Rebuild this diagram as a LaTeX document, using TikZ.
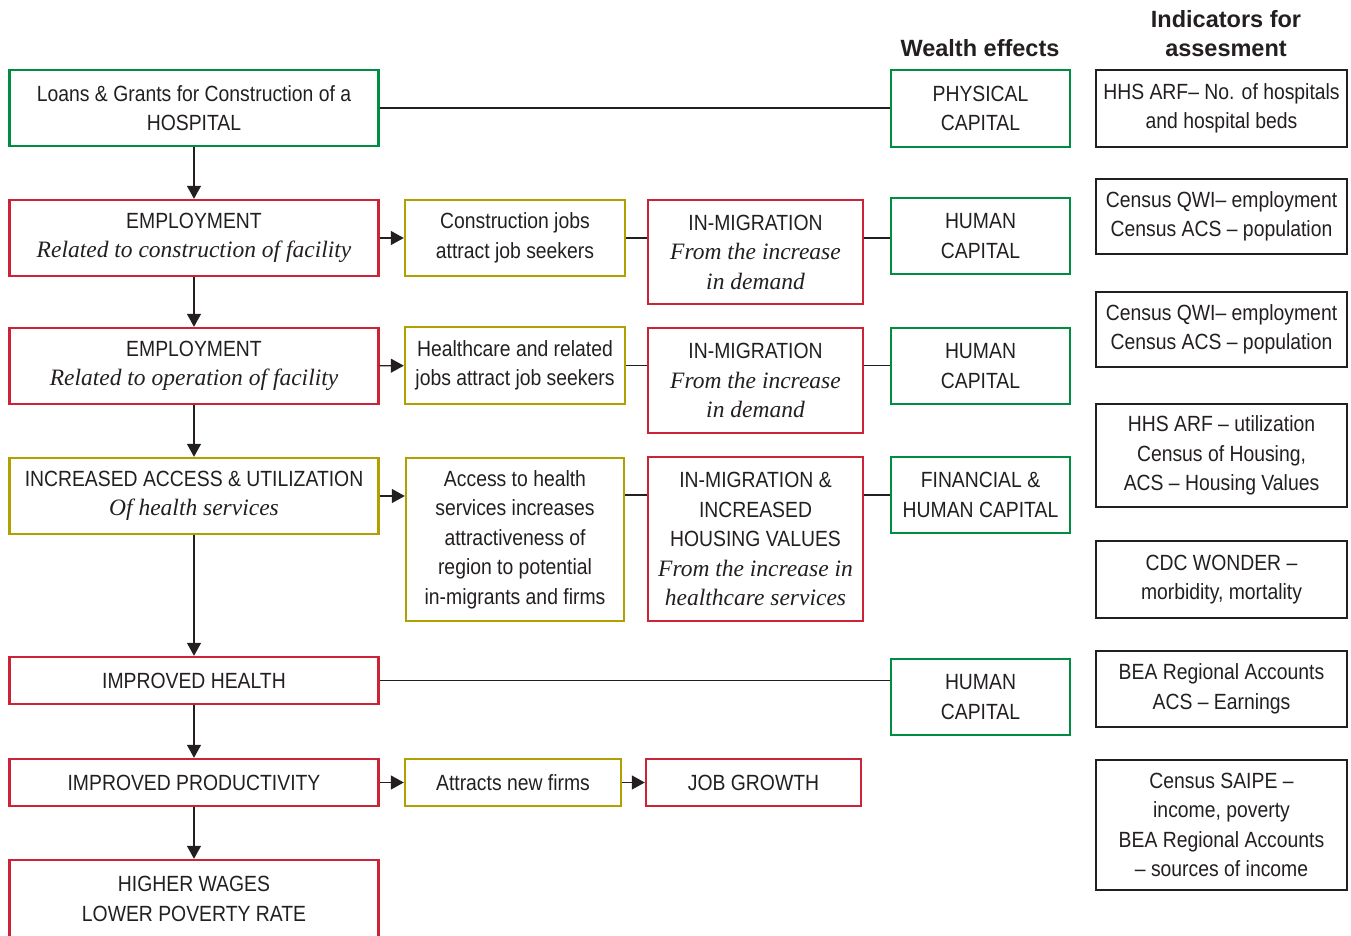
\documentclass[tikz,border=0pt]{standalone}
\usepackage{fontspec}
\setmainfont{Liberation Sans}[FakeStretch=0.88]
\newfontfamily\itfont{Liberation Serif}
\newfontfamily\headfont{Liberation Sans}
\usetikzlibrary{arrows.meta}

\definecolor{boxgreen}{RGB}{0,140,65}
\definecolor{boxred}{RGB}{205,35,55}
\definecolor{boxolive}{RGB}{176,160,0}
\definecolor{boxblack}{RGB}{35,31,32}

\newcommand{\subtxt}[1]{{\itfont\itshape\fontsize{23.5}{29.5}\selectfont #1}}

\tikzset{
  box/.style={draw, line width=2.4pt, align=center, inner sep=0pt,
    font=\fontsize{22}{29.5}\selectfont, text=boxblack},
  greenbox/.style={box, draw=boxgreen},
  redbox/.style={box, draw=boxred},
  olivebox/.style={box, draw=boxolive},
  indbox/.style={box, draw=boxblack, line width=2pt},
  head/.style={font=\headfont\bfseries\fontsize{23.5}{29}\selectfont, align=center, text=boxblack},
  arr/.style={-{Triangle[width=14pt,length=13pt]}, line width=1.3pt, draw=boxblack},
  lnk/.style={line width=1.3pt, draw=boxblack}
}

\begin{document}
\begin{tikzpicture}[x=1pt,y=-1pt]
\clip (0,0) rectangle (1351,935);

% headings
\node[head] (wealthhead) at (980,48) {Wealth effects};
\node[head] (indhead) at (1226,34) {Indicators for\\assesment};

% left column
\node[greenbox, minimum width=369, minimum height=76] (loans) at (194,108)
  {Loans \& Grants for Construction of a\\HOSPITAL};
\node[redbox, minimum width=369, minimum height=76] (emp1) at (194,238)
  {EMPLOYMENT\\\subtxt{Related to construction of facility}};
\node[redbox, minimum width=369, minimum height=76] (emp2) at (194,366)
  {EMPLOYMENT\\\subtxt{Related to operation of facility}};
\node[olivebox, minimum width=369, minimum height=76] (access) at (194,496)
  {INCREASED ACCESS \& UTILIZATION\\\subtxt{Of health services}};
\node[redbox, minimum width=369, minimum height=47] (health) at (194,680.5)
  {IMPROVED HEALTH};
\node[redbox, minimum width=369, minimum height=47] (prod) at (194,782.5)
  {IMPROVED PRODUCTIVITY};
\node[redbox, minimum width=369, minimum height=78] (wages) at (194,899)
  {HIGHER WAGES\\LOWER POVERTY RATE};

% second column
\node[olivebox, minimum width=220, minimum height=76] (cjobs) at (515,238)
  {Construction jobs\\attract job seekers};
\node[olivebox, minimum width=220, minimum height=77] (hcjobs) at (515,365.5)
  {Healthcare and related\\jobs attract job seekers};
\node[olivebox, minimum width=218, minimum height=163] (attract) at (515,539.5)
  {Access to health\\services increases\\attractiveness of\\region to potential\\in-migrants and firms};
\node[olivebox, minimum width=216, minimum height=47] (firms) at (513,782.5)
  {Attracts new firms};

% third column
\node[redbox, minimum width=215, minimum height=104] (mig1) at (755.5,252)
  {IN-MIGRATION\\\subtxt{From the increase}\\\subtxt{in demand}};
\node[redbox, minimum width=215, minimum height=105] (mig2) at (755.5,380.5)
  {IN-MIGRATION\\\subtxt{From the increase}\\\subtxt{in demand}};
\node[redbox, minimum width=215, minimum height=164] (mig3) at (755.5,539)
  {IN-MIGRATION \&\\INCREASED\\HOUSING VALUES\\\subtxt{From the increase in}\\\subtxt{healthcare services}};
\node[redbox, minimum width=215, minimum height=47] (jobs) at (753.5,782.5)
  {JOB GROWTH};

% wealth effects
\node[greenbox, minimum width=179, minimum height=77] (physcap) at (980.5,108.5)
  {PHYSICAL\\CAPITAL};
\node[greenbox, minimum width=179, minimum height=76] (hum1) at (980.5,236)
  {HUMAN\\CAPITAL};
\node[greenbox, minimum width=179, minimum height=76] (hum2) at (980.5,366)
  {HUMAN\\CAPITAL};
\node[greenbox, minimum width=179, minimum height=76] (fincap) at (980.5,495)
  {FINANCIAL \&\\HUMAN CAPITAL};
\node[greenbox, minimum width=179, minimum height=76] (hum3) at (980.5,697)
  {HUMAN\\CAPITAL};

% indicators
\node[indbox, minimum width=251, minimum height=77] (ind1) at (1221.5,108.5)
  {HHS ARF-- No. of hospitals\\and hospital beds};
\node[indbox, minimum width=251, minimum height=75] (ind2) at (1221.5,216.5)
  {Census QWI-- employment\\Census ACS -- population};
\node[indbox, minimum width=251, minimum height=75] (ind3) at (1221.5,329.5)
  {Census QWI-- employment\\Census ACS -- population};
\node[indbox, minimum width=251, minimum height=103] (ind4) at (1221.5,455.5)
  {HHS ARF -- utilization\\Census of Housing,\\ACS -- Housing Values};
\node[indbox, minimum width=251, minimum height=77] (ind5) at (1221.5,579.5)
  {CDC WONDER --\\morbidity, mortality};
\node[indbox, minimum width=251, minimum height=76] (ind6) at (1221.5,689)
  {BEA Regional Accounts\\ACS -- Earnings};
\node[indbox, minimum width=251, minimum height=130] (ind7) at (1221.5,825)
  {Census SAIPE --\\income, poverty\\BEA Regional Accounts\\-- sources of income};

% main chain
\draw[arr] (loans) -- (emp1);
\draw[arr] (emp1) -- (emp2);
\draw[arr] (emp2) -- (access);
\draw[arr] (access) -- (health);
\draw[arr] (health) -- (prod);
\draw[arr] (prod) -- (wages);

% side links
\draw[lnk] (loans.east) -- (loans.east -| physcap.west);
\draw[arr] (emp1) -- (cjobs);
\draw[lnk] (cjobs.east) -- (cjobs.east -| mig1.west);
\draw[lnk] (cjobs.east -| mig1.east) -- (cjobs.east -| hum1.west);
\draw[arr] (emp2) -- (hcjobs);
\draw[lnk] (hcjobs.east) -- (hcjobs.east -| mig2.west);
\draw[lnk] (hcjobs.east -| mig2.east) -- (hcjobs.east -| hum2.west);
\draw[arr] (access) -- (access -| attract.west);
\draw[lnk] (fincap.west -| attract.east) -- (fincap.west -| mig3.west);
\draw[lnk] (fincap.west -| mig3.east) -- (fincap.west);
\draw[lnk] (health) -- (health -| hum3.west);
\draw[arr] (prod) -- (firms);
\draw[arr] (firms) -- (jobs);
\end{tikzpicture}
\end{document}
